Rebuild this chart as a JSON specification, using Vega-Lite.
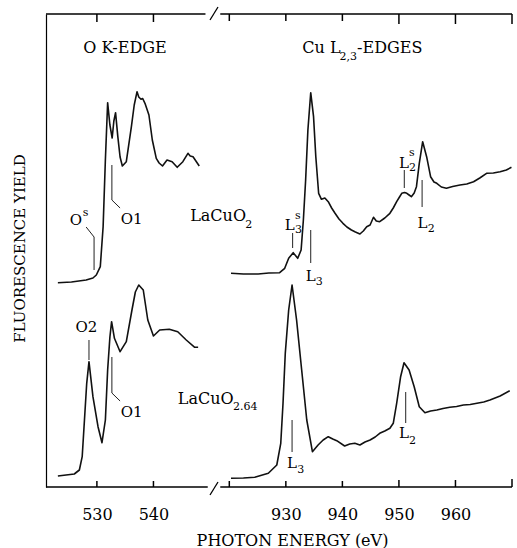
{
  "$schema": "https://vega.github.io/schema/vega-lite/v6.json",
  "width": 466,
  "height": 473,
  "autosize": {"type": "none"},
  "padding": {"left": 46, "top": 14, "right": 5, "bottom": 61},
  "background": "white",
  "config": {
    "view": {"stroke": null},
    "font": "DejaVu Serif",
    "text": {"font": "DejaVu Serif", "color": "black", "align": "left", "baseline": "alphabetic"}
  },
  "datasets": {
    "spectra": [
      {"s": "O_LaCuO2", "e": 523.1, "v": 204.3}, {"s": "O_LaCuO2", "e": 525.5, "v": 205}, {"s": "O_LaCuO2", "e": 528.1, "v": 207},
      {"s": "O_LaCuO2", "e": 529.3, "v": 209}, {"s": "O_LaCuO2", "e": 529.9, "v": 212}, {"s": "O_LaCuO2", "e": 530.6, "v": 220.3},
      {"s": "O_LaCuO2", "e": 531.1, "v": 260.3}, {"s": "O_LaCuO2", "e": 531.5, "v": 327}, {"s": "O_LaCuO2", "e": 531.9, "v": 384.3},
      {"s": "O_LaCuO2", "e": 532.3, "v": 362}, {"s": "O_LaCuO2", "e": 532.7, "v": 349}, {"s": "O_LaCuO2", "e": 533.0, "v": 366},
      {"s": "O_LaCuO2", "e": 533.3, "v": 374.3}, {"s": "O_LaCuO2", "e": 533.7, "v": 350.3}, {"s": "O_LaCuO2", "e": 534.1, "v": 330},
      {"s": "O_LaCuO2", "e": 534.5, "v": 321}, {"s": "O_LaCuO2", "e": 535.2, "v": 325.3}, {"s": "O_LaCuO2", "e": 536.1, "v": 360.3},
      {"s": "O_LaCuO2", "e": 536.6, "v": 382}, {"s": "O_LaCuO2", "e": 537.1, "v": 395.3}, {"s": "O_LaCuO2", "e": 537.4, "v": 390},
      {"s": "O_LaCuO2", "e": 537.8, "v": 387.7}, {"s": "O_LaCuO2", "e": 538.1, "v": 388.5}, {"s": "O_LaCuO2", "e": 538.5, "v": 383.7},
      {"s": "O_LaCuO2", "e": 539.2, "v": 372}, {"s": "O_LaCuO2", "e": 539.8, "v": 347}, {"s": "O_LaCuO2", "e": 540.5, "v": 328.7},
      {"s": "O_LaCuO2", "e": 541.0, "v": 324}, {"s": "O_LaCuO2", "e": 541.6, "v": 321}, {"s": "O_LaCuO2", "e": 542.4, "v": 327},
      {"s": "O_LaCuO2", "e": 543.3, "v": 325.3}, {"s": "O_LaCuO2", "e": 544.2, "v": 319.7}, {"s": "O_LaCuO2", "e": 545.2, "v": 325.3},
      {"s": "O_LaCuO2", "e": 546.1, "v": 333.7}, {"s": "O_LaCuO2", "e": 546.5, "v": 331}, {"s": "O_LaCuO2", "e": 547.0, "v": 330.3},
      {"s": "O_LaCuO2", "e": 548.1, "v": 321},

      {"s": "O_LaCuO264", "e": 523.1, "v": 11}, {"s": "O_LaCuO264", "e": 526.0, "v": 13}, {"s": "O_LaCuO264", "e": 526.9, "v": 17},
      {"s": "O_LaCuO264", "e": 527.4, "v": 30.3}, {"s": "O_LaCuO264", "e": 527.8, "v": 67}, {"s": "O_LaCuO264", "e": 528.2, "v": 103.7},
      {"s": "O_LaCuO264", "e": 528.6, "v": 125.3}, {"s": "O_LaCuO264", "e": 529.3, "v": 90.3}, {"s": "O_LaCuO264", "e": 530.2, "v": 60.3},
      {"s": "O_LaCuO264", "e": 530.9, "v": 44.3}, {"s": "O_LaCuO264", "e": 531.5, "v": 67}, {"s": "O_LaCuO264", "e": 531.9, "v": 117},
      {"s": "O_LaCuO264", "e": 532.3, "v": 150}, {"s": "O_LaCuO264", "e": 532.6, "v": 165.3}, {"s": "O_LaCuO264", "e": 533.1, "v": 148.7},
      {"s": "O_LaCuO264", "e": 534.1, "v": 135.3}, {"s": "O_LaCuO264", "e": 535.2, "v": 145.3}, {"s": "O_LaCuO264", "e": 536.2, "v": 177},
      {"s": "O_LaCuO264", "e": 536.8, "v": 195}, {"s": "O_LaCuO264", "e": 537.4, "v": 202}, {"s": "O_LaCuO264", "e": 538.2, "v": 197},
      {"s": "O_LaCuO264", "e": 539.0, "v": 167}, {"s": "O_LaCuO264", "e": 540.0, "v": 151}, {"s": "O_LaCuO264", "e": 541.1, "v": 157},
      {"s": "O_LaCuO264", "e": 542.8, "v": 157.7}, {"s": "O_LaCuO264", "e": 544.3, "v": 155.3}, {"s": "O_LaCuO264", "e": 545.8, "v": 147},
      {"s": "O_LaCuO264", "e": 547.3, "v": 139.7}, {"s": "O_LaCuO264", "e": 547.9, "v": 139.7},

      {"s": "Cu_LaCuO2", "e": 920.3, "v": 213.7}, {"s": "Cu_LaCuO2", "e": 922.5, "v": 213}, {"s": "Cu_LaCuO2", "e": 925.1, "v": 213},
      {"s": "Cu_LaCuO2", "e": 927.0, "v": 214}, {"s": "Cu_LaCuO2", "e": 928.9, "v": 214.3}, {"s": "Cu_LaCuO2", "e": 929.8, "v": 218.7},
      {"s": "Cu_LaCuO2", "e": 930.5, "v": 228.7}, {"s": "Cu_LaCuO2", "e": 931.3, "v": 234.3}, {"s": "Cu_LaCuO2", "e": 932.1, "v": 228.7},
      {"s": "Cu_LaCuO2", "e": 932.7, "v": 237}, {"s": "Cu_LaCuO2", "e": 933.1, "v": 267}, {"s": "Cu_LaCuO2", "e": 933.5, "v": 307},
      {"s": "Cu_LaCuO2", "e": 933.9, "v": 357}, {"s": "Cu_LaCuO2", "e": 934.4, "v": 394.3}, {"s": "Cu_LaCuO2", "e": 934.9, "v": 370.3},
      {"s": "Cu_LaCuO2", "e": 935.3, "v": 330.3}, {"s": "Cu_LaCuO2", "e": 935.8, "v": 293.7}, {"s": "Cu_LaCuO2", "e": 936.3, "v": 287.7},
      {"s": "Cu_LaCuO2", "e": 936.9, "v": 289}, {"s": "Cu_LaCuO2", "e": 937.5, "v": 285.3}, {"s": "Cu_LaCuO2", "e": 938.1, "v": 279},
      {"s": "Cu_LaCuO2", "e": 938.7, "v": 273.7}, {"s": "Cu_LaCuO2", "e": 939.4, "v": 268}, {"s": "Cu_LaCuO2", "e": 940.1, "v": 263.7},
      {"s": "Cu_LaCuO2", "e": 940.8, "v": 260}, {"s": "Cu_LaCuO2", "e": 941.6, "v": 257}, {"s": "Cu_LaCuO2", "e": 942.3, "v": 255},
      {"s": "Cu_LaCuO2", "e": 943.1, "v": 253}, {"s": "Cu_LaCuO2", "e": 943.7, "v": 256}, {"s": "Cu_LaCuO2", "e": 944.3, "v": 260.3},
      {"s": "Cu_LaCuO2", "e": 944.9, "v": 262}, {"s": "Cu_LaCuO2", "e": 945.5, "v": 269.7}, {"s": "Cu_LaCuO2", "e": 946.0, "v": 266},
      {"s": "Cu_LaCuO2", "e": 946.6, "v": 265.3}, {"s": "Cu_LaCuO2", "e": 947.5, "v": 269}, {"s": "Cu_LaCuO2", "e": 948.4, "v": 273.7},
      {"s": "Cu_LaCuO2", "e": 949.0, "v": 279}, {"s": "Cu_LaCuO2", "e": 949.6, "v": 285.3}, {"s": "Cu_LaCuO2", "e": 950.1, "v": 290},
      {"s": "Cu_LaCuO2", "e": 950.5, "v": 293.7}, {"s": "Cu_LaCuO2", "e": 951.0, "v": 294.5}, {"s": "Cu_LaCuO2", "e": 951.4, "v": 293.7},
      {"s": "Cu_LaCuO2", "e": 951.8, "v": 292}, {"s": "Cu_LaCuO2", "e": 952.2, "v": 290.3}, {"s": "Cu_LaCuO2", "e": 952.7, "v": 294},
      {"s": "Cu_LaCuO2", "e": 953.1, "v": 300.3}, {"s": "Cu_LaCuO2", "e": 953.6, "v": 323.7}, {"s": "Cu_LaCuO2", "e": 954.2, "v": 345.3},
      {"s": "Cu_LaCuO2", "e": 954.9, "v": 330.3}, {"s": "Cu_LaCuO2", "e": 955.6, "v": 310.3}, {"s": "Cu_LaCuO2", "e": 956.2, "v": 305},
      {"s": "Cu_LaCuO2", "e": 956.7, "v": 303.7}, {"s": "Cu_LaCuO2", "e": 957.5, "v": 300}, {"s": "Cu_LaCuO2", "e": 958.4, "v": 298.7},
      {"s": "Cu_LaCuO2", "e": 959.5, "v": 300.5}, {"s": "Cu_LaCuO2", "e": 960.8, "v": 302}, {"s": "Cu_LaCuO2", "e": 962.0, "v": 303},
      {"s": "Cu_LaCuO2", "e": 963.2, "v": 305.3}, {"s": "Cu_LaCuO2", "e": 964.3, "v": 309}, {"s": "Cu_LaCuO2", "e": 965.5, "v": 313.7},
      {"s": "Cu_LaCuO2", "e": 966.7, "v": 314}, {"s": "Cu_LaCuO2", "e": 967.9, "v": 315.3}, {"s": "Cu_LaCuO2", "e": 969.0, "v": 317},
      {"s": "Cu_LaCuO2", "e": 969.9, "v": 319.7},

      {"s": "Cu_LaCuO264", "e": 920.3, "v": 8.7}, {"s": "Cu_LaCuO264", "e": 922.5, "v": 9}, {"s": "Cu_LaCuO264", "e": 924.5, "v": 9.7},
      {"s": "Cu_LaCuO264", "e": 926.9, "v": 13.7}, {"s": "Cu_LaCuO264", "e": 928.4, "v": 22}, {"s": "Cu_LaCuO264", "e": 929.1, "v": 43.7},
      {"s": "Cu_LaCuO264", "e": 929.5, "v": 83.7}, {"s": "Cu_LaCuO264", "e": 929.9, "v": 133.7}, {"s": "Cu_LaCuO264", "e": 930.5, "v": 177},
      {"s": "Cu_LaCuO264", "e": 931.1, "v": 202}, {"s": "Cu_LaCuO264", "e": 931.9, "v": 167}, {"s": "Cu_LaCuO264", "e": 932.8, "v": 117},
      {"s": "Cu_LaCuO264", "e": 933.7, "v": 67}, {"s": "Cu_LaCuO264", "e": 934.7, "v": 35.3}, {"s": "Cu_LaCuO264", "e": 935.7, "v": 42},
      {"s": "Cu_LaCuO264", "e": 936.6, "v": 47}, {"s": "Cu_LaCuO264", "e": 937.5, "v": 50.3}, {"s": "Cu_LaCuO264", "e": 938.3, "v": 48},
      {"s": "Cu_LaCuO264", "e": 939.0, "v": 46.3}, {"s": "Cu_LaCuO264", "e": 940.4, "v": 41}, {"s": "Cu_LaCuO264", "e": 941.3, "v": 43},
      {"s": "Cu_LaCuO264", "e": 942.2, "v": 43.7}, {"s": "Cu_LaCuO264", "e": 943.1, "v": 42}, {"s": "Cu_LaCuO264", "e": 944.0, "v": 45},
      {"s": "Cu_LaCuO264", "e": 944.9, "v": 47}, {"s": "Cu_LaCuO264", "e": 945.8, "v": 50}, {"s": "Cu_LaCuO264", "e": 946.6, "v": 53.7},
      {"s": "Cu_LaCuO264", "e": 947.5, "v": 56}, {"s": "Cu_LaCuO264", "e": 948.4, "v": 58.7}, {"s": "Cu_LaCuO264", "e": 949.0, "v": 63.7},
      {"s": "Cu_LaCuO264", "e": 949.6, "v": 83.7}, {"s": "Cu_LaCuO264", "e": 950.3, "v": 110.3}, {"s": "Cu_LaCuO264", "e": 950.9, "v": 124.3},
      {"s": "Cu_LaCuO264", "e": 951.8, "v": 117}, {"s": "Cu_LaCuO264", "e": 952.7, "v": 100.3}, {"s": "Cu_LaCuO264", "e": 953.6, "v": 80.3},
      {"s": "Cu_LaCuO264", "e": 954.6, "v": 74.3}, {"s": "Cu_LaCuO264", "e": 955.6, "v": 76}, {"s": "Cu_LaCuO264", "e": 956.7, "v": 77},
      {"s": "Cu_LaCuO264", "e": 957.8, "v": 78.5}, {"s": "Cu_LaCuO264", "e": 959.0, "v": 79.7}, {"s": "Cu_LaCuO264", "e": 960.2, "v": 80.5},
      {"s": "Cu_LaCuO264", "e": 961.4, "v": 82}, {"s": "Cu_LaCuO264", "e": 962.6, "v": 82.5}, {"s": "Cu_LaCuO264", "e": 963.8, "v": 83.7},
      {"s": "Cu_LaCuO264", "e": 965.0, "v": 85}, {"s": "Cu_LaCuO264", "e": 966.1, "v": 87}, {"s": "Cu_LaCuO264", "e": 967.9, "v": 91},
      {"s": "Cu_LaCuO264", "e": 969.6, "v": 96.3}
    ],
    "leaders": [
      {"id": "Os", "i": 0, "e": 528.1, "v": 260}, {"id": "Os", "i": 1, "e": 529.5, "v": 250}, {"id": "Os", "i": 2, "e": 529.5, "v": 217},
      {"id": "O1a", "i": 0, "e": 532.65, "v": 322}, {"id": "O1a", "i": 1, "e": 532.65, "v": 287}, {"id": "O1a", "i": 2, "e": 534.1, "v": 279},
      {"id": "O2", "i": 0, "e": 528.6, "v": 147}, {"id": "O2", "i": 1, "e": 528.6, "v": 127},
      {"id": "O1b", "i": 0, "e": 532.65, "v": 130}, {"id": "O1b", "i": 1, "e": 532.65, "v": 94}, {"id": "O1b", "i": 2, "e": 534.1, "v": 86},
      {"id": "L3s", "i": 0, "e": 931.2, "v": 254}, {"id": "L3s", "i": 1, "e": 931.2, "v": 239},
      {"id": "L3a", "i": 0, "e": 934.4, "v": 257}, {"id": "L3a", "i": 1, "e": 934.4, "v": 224},
      {"id": "L2s", "i": 0, "e": 950.95, "v": 317}, {"id": "L2s", "i": 1, "e": 950.95, "v": 299},
      {"id": "L2a", "i": 0, "e": 954.1, "v": 307}, {"id": "L2a", "i": 1, "e": 954.1, "v": 280},
      {"id": "L3b", "i": 0, "e": 931.1, "v": 67}, {"id": "L3b", "i": 1, "e": 931.1, "v": 35},
      {"id": "L2b", "i": 0, "e": 951.2, "v": 95}, {"id": "L2b", "i": 1, "e": 951.2, "v": 64}
    ],
    "frame": [
      {"id": "bottom_left", "i": 0, "e": 521, "v": 0}, {"id": "bottom_left", "i": 1, "e": 549.6, "v": 0},
      {"id": "bottom_right", "i": 0, "e": 918.4, "v": 0}, {"id": "bottom_right", "i": 1, "e": 970, "v": 0},
      {"id": "top_left", "i": 0, "e": 521, "v": 473}, {"id": "top_left", "i": 1, "e": 549.2, "v": 473},
      {"id": "top_right", "i": 0, "e": 918.4, "v": 473}, {"id": "top_right", "i": 1, "e": 970, "v": 473},
      {"id": "break_bottom", "i": 0, "e": 550, "v": -8}, {"id": "break_bottom", "i": 1, "e": 918, "v": 5},
      {"id": "break_top", "i": 0, "e": 550, "v": 467}, {"id": "break_top", "i": 1, "e": 918, "v": 480}
    ],
    "tickmarks": [
      {"e": 530, "v": 0, "v2": 6}, {"e": 540, "v": 0, "v2": 6}, {"e": 920, "v": 0, "v2": 6}, {"e": 930, "v": 0, "v2": 6},
      {"e": 940, "v": 0, "v2": 6}, {"e": 950, "v": 0, "v2": 7}, {"e": 960, "v": 0, "v2": 7}, {"e": 970, "v": 0, "v2": 8},
      {"e": 530, "v": 465, "v2": 473}, {"e": 540, "v": 465, "v2": 473}, {"e": 920, "v": 466, "v2": 473}, {"e": 930, "v": 466, "v2": 473},
      {"e": 940, "v": 466, "v2": 473}, {"e": 950, "v": 463, "v2": 473}, {"e": 960, "v": 463, "v2": 473}, {"e": 970, "v": 463, "v2": 473}
    ],
    "headers": [
      {"t": "O K-EDGE", "e": 527.6, "v": 434},
      {"t": "Cu L", "e": 932.9, "v": 434},
      {"t": "-EDGES", "e": 942.6, "v": 434},
      {"t": "LaCuO", "e": 546.5, "v": 266},
      {"t": "LaCuO", "e": 544.3, "v": 83}
    ],
    "labels": [
      {"t": "O", "e": 525.2, "v": 262},
      {"t": "O1", "e": 534.2, "v": 263},
      {"t": "O2", "e": 526.2, "v": 155},
      {"t": "O1", "e": 534.2, "v": 70},
      {"t": "L", "e": 929.8, "v": 257},
      {"t": "L", "e": 933.5, "v": 206},
      {"t": "L", "e": 950.0, "v": 319},
      {"t": "L", "e": 953.3, "v": 259},
      {"t": "L", "e": 930.2, "v": 19},
      {"t": "L", "e": 950.0, "v": 49}
    ],
    "scripts": [
      {"t": "s", "e": 527.5, "v": 271},
      {"t": "2", "e": 922.8, "v": 259},
      {"t": "2.64", "e": 920.65, "v": 77},
      {"t": "2,3", "e": 939.5, "v": 427},
      {"t": "s", "e": 931.6, "v": 268},
      {"t": "3", "e": 931.6, "v": 254},
      {"t": "3", "e": 935.3, "v": 202},
      {"t": "s", "e": 951.8, "v": 331},
      {"t": "2", "e": 951.8, "v": 316},
      {"t": "2", "e": 955.1, "v": 255},
      {"t": "3", "e": 932.0, "v": 14},
      {"t": "2", "e": 951.8, "v": 43}
    ]
  },
  "resolve": {"axis": {"x": "independent", "y": "independent"}},
  "layer": [
    {
      "data": {"name": "spectra"},
      "mark": {"type": "line", "color": "#111111", "strokeWidth": 1.6, "strokeJoin": "round"},
      "encoding": {
        "x": {
          "field": "e", "type": "quantitative",
          "scale": {"domain": [521, 550, 918, 970], "range": [0, 164, 172, 466], "nice": false, "zero": false},
          "axis": {
            "orient": "bottom", "values": [530, 540, 930, 940, 950, 960],
            "domain": false, "grid": false, "ticks": false,
            "labelFont": "DejaVu Serif", "labelFontSize": 16, "labelColor": "black", "labelPadding": 19,
            "labelOverlap": false, "labelFlush": false,
            "title": "PHOTON ENERGY (eV)", "titleFont": "DejaVu Serif", "titleFontSize": 16, "titleFontWeight": "normal",
            "titleColor": "black", "titleX": 246, "titleY": 58, "titleAlign": "center", "titleBaseline": "alphabetic"
          }
        },
        "y": {
          "field": "v", "type": "quantitative",
          "scale": {"domain": [0, 473], "nice": false, "zero": false},
          "axis": {
            "domain": true, "domainColor": "black", "domainWidth": 1.2, "ticks": false, "labels": false, "grid": false,
            "title": "FLUORESCENCE YIELD", "titleFont": "DejaVu Serif", "titleFontSize": 15, "titleFontWeight": "normal",
            "titleColor": "black", "titleX": -27, "titleY": 234, "titleAlign": "center", "titleBaseline": "middle"
          }
        },
        "detail": {"field": "s"}
      }
    },
    {
      "data": {"name": "tickmarks"},
      "mark": {"type": "rule", "color": "black", "strokeWidth": 1.5, "clip": false},
      "encoding": {
        "x": {"field": "e", "type": "quantitative", "axis": null},
        "y": {"field": "v", "type": "quantitative", "axis": null},
        "y2": {"field": "v2"}
      }
    },
    {
      "data": {"name": "frame"},
      "mark": {"type": "line", "color": "black", "strokeWidth": 1.3, "clip": false},
      "encoding": {
        "x": {"field": "e", "type": "quantitative", "axis": null},
        "y": {"field": "v", "type": "quantitative", "axis": null},
        "detail": {"field": "id"},
        "order": {"field": "i"}
      }
    },
    {
      "data": {"name": "leaders"},
      "mark": {"type": "line", "color": "#222222", "strokeWidth": 1},
      "encoding": {
        "x": {"field": "e", "type": "quantitative", "axis": null},
        "y": {"field": "v", "type": "quantitative", "axis": null},
        "detail": {"field": "id"},
        "order": {"field": "i"}
      }
    },
    {
      "data": {"name": "headers"},
      "mark": {"type": "text", "fontSize": 16},
      "encoding": {
        "x": {"field": "e", "type": "quantitative", "axis": null},
        "y": {"field": "v", "type": "quantitative", "axis": null},
        "text": {"field": "t"}
      }
    },
    {
      "data": {"name": "labels"},
      "mark": {"type": "text", "fontSize": 15},
      "encoding": {
        "x": {"field": "e", "type": "quantitative", "axis": null},
        "y": {"field": "v", "type": "quantitative", "axis": null},
        "text": {"field": "t"}
      }
    },
    {
      "data": {"name": "scripts"},
      "mark": {"type": "text", "fontSize": 11},
      "encoding": {
        "x": {"field": "e", "type": "quantitative", "axis": null},
        "y": {"field": "v", "type": "quantitative", "axis": null},
        "text": {"field": "t"}
      }
    }
  ]
}
